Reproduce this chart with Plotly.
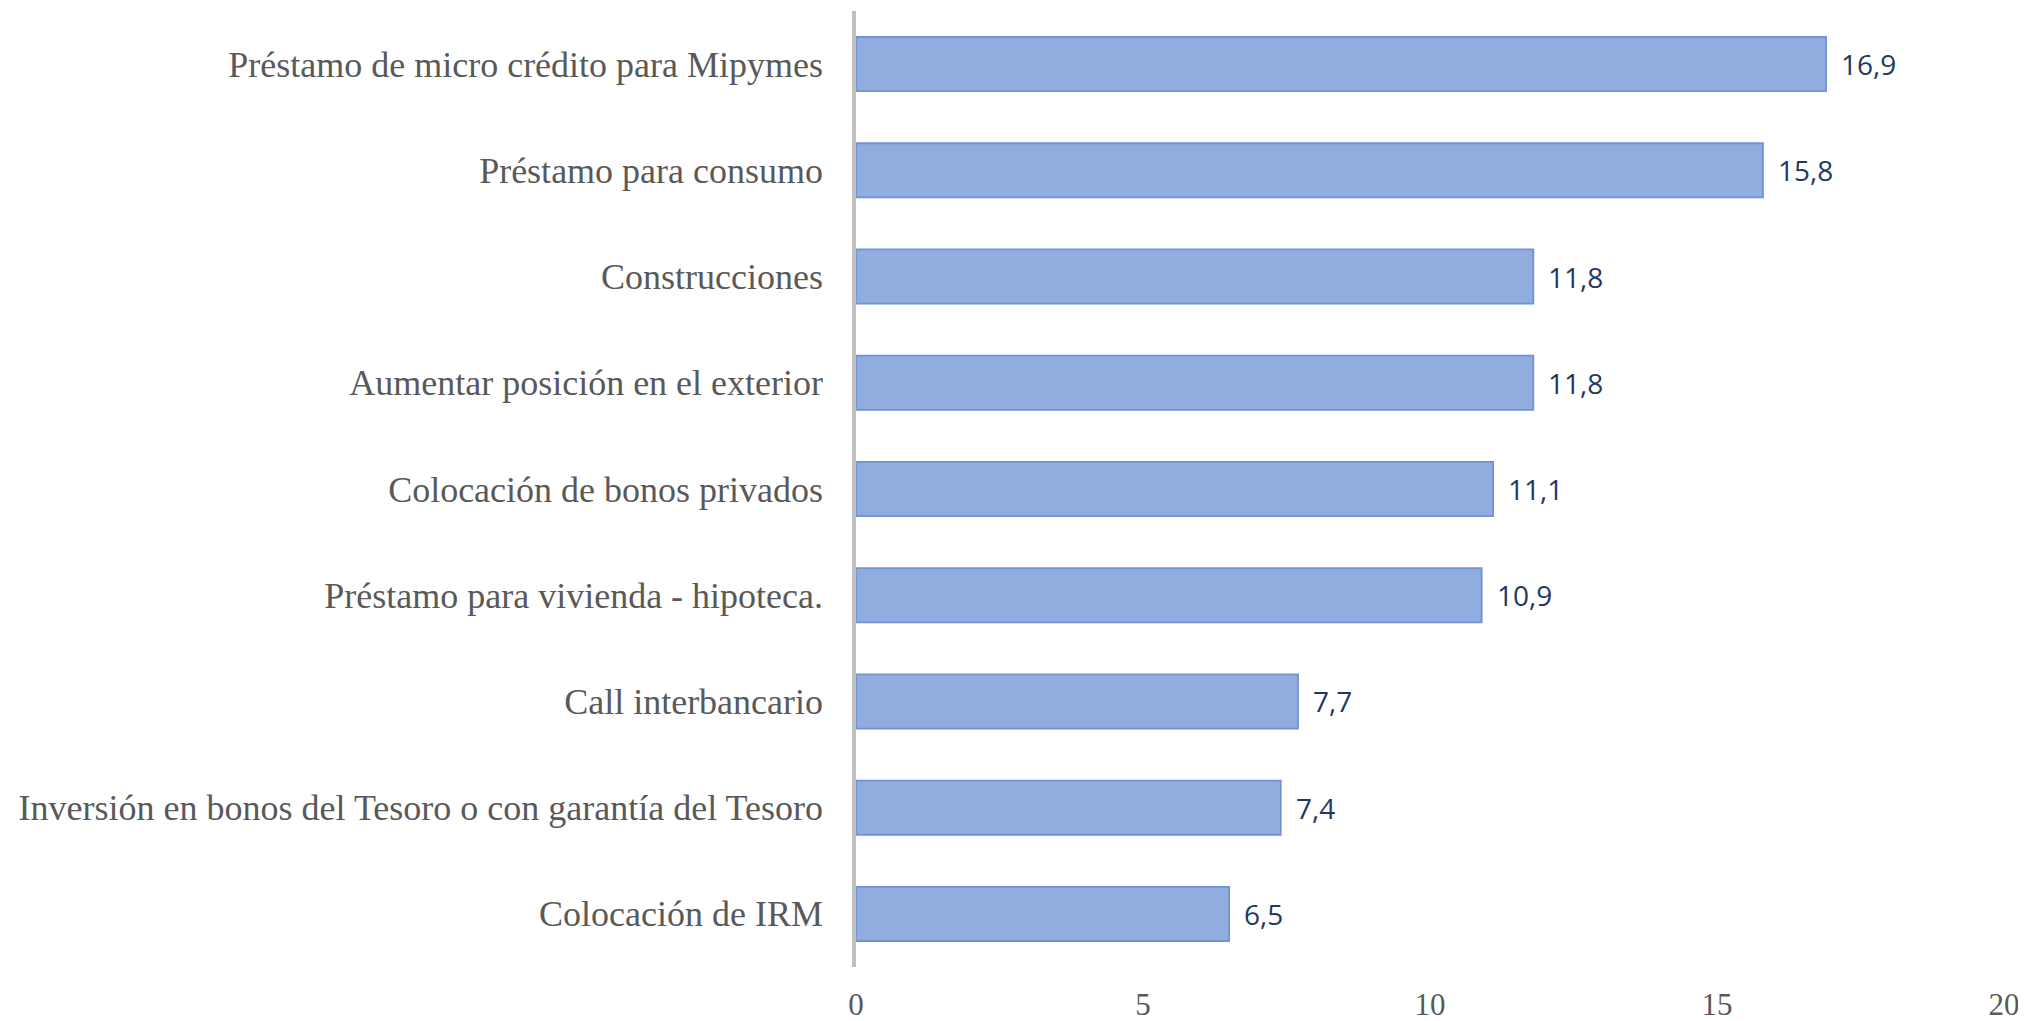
import plotly.graph_objects as go

categories = [
    "Préstamo de micro crédito para Mipymes",
    "Préstamo para consumo",
    "Construcciones",
    "Aumentar posición en el exterior",
    "Colocación de bonos privados",
    "Préstamo para vivienda - hipoteca.",
    "Call interbancario",
    "Inversión en bonos del Tesoro o con garantía del Tesoro",
    "Colocación de IRM",
]
values = [16.9, 15.8, 11.8, 11.8, 11.1, 10.9, 7.7, 7.4, 6.5]
x_ticks = [0, 5, 10, 15, 20]

labels = [f"{v:.1f}".replace(".", ",") for v in values]

fig = go.Figure()
fig.add_trace(go.Bar(
    x=values,
    y=categories,
    orientation="h",
    width=0.51,
    marker=dict(color="#91ACDE", line=dict(color="#6F93D4", width=1.8)),
    hoverinfo="skip",
))

for c, v, t in zip(categories, values, labels):
    fig.add_annotation(
        x=v, y=c, text=t, showarrow=False,
        xanchor="left", yanchor="middle", xshift=13,
        font=dict(family="Open Sans", size=28, color="#1F3864"),
    )

# page body has an 8px default margin, so the figure is sized to fit inside it
fig.update_layout(
    width=2018, height=1013,
    margin=dict(l=848, r=22, t=3, b=54),
    plot_bgcolor="white", paper_bgcolor="white",
    showlegend=False,
)
fig.update_xaxes(
    range=[0, 20], tickvals=x_ticks, ticktext=[str(t) for t in x_ticks],
    showgrid=False, zeroline=False, showline=False, automargin=False,
    ticks="outside", ticklen=10, tickcolor="rgba(0,0,0,0)",
    tickfont=dict(family="Liberation Serif", size=31, color="#595959"),
)
fig.update_yaxes(
    autorange="reversed", automargin=False,
    showgrid=False, zeroline=False,
    showline=True, linecolor="#BFBFBF", linewidth=3.5,
    ticks="outside", ticklen=22, tickcolor="rgba(0,0,0,0)",
    tickfont=dict(family="Liberation Serif", size=36, color="#595959"),
)

fig.write_html("out.html")
